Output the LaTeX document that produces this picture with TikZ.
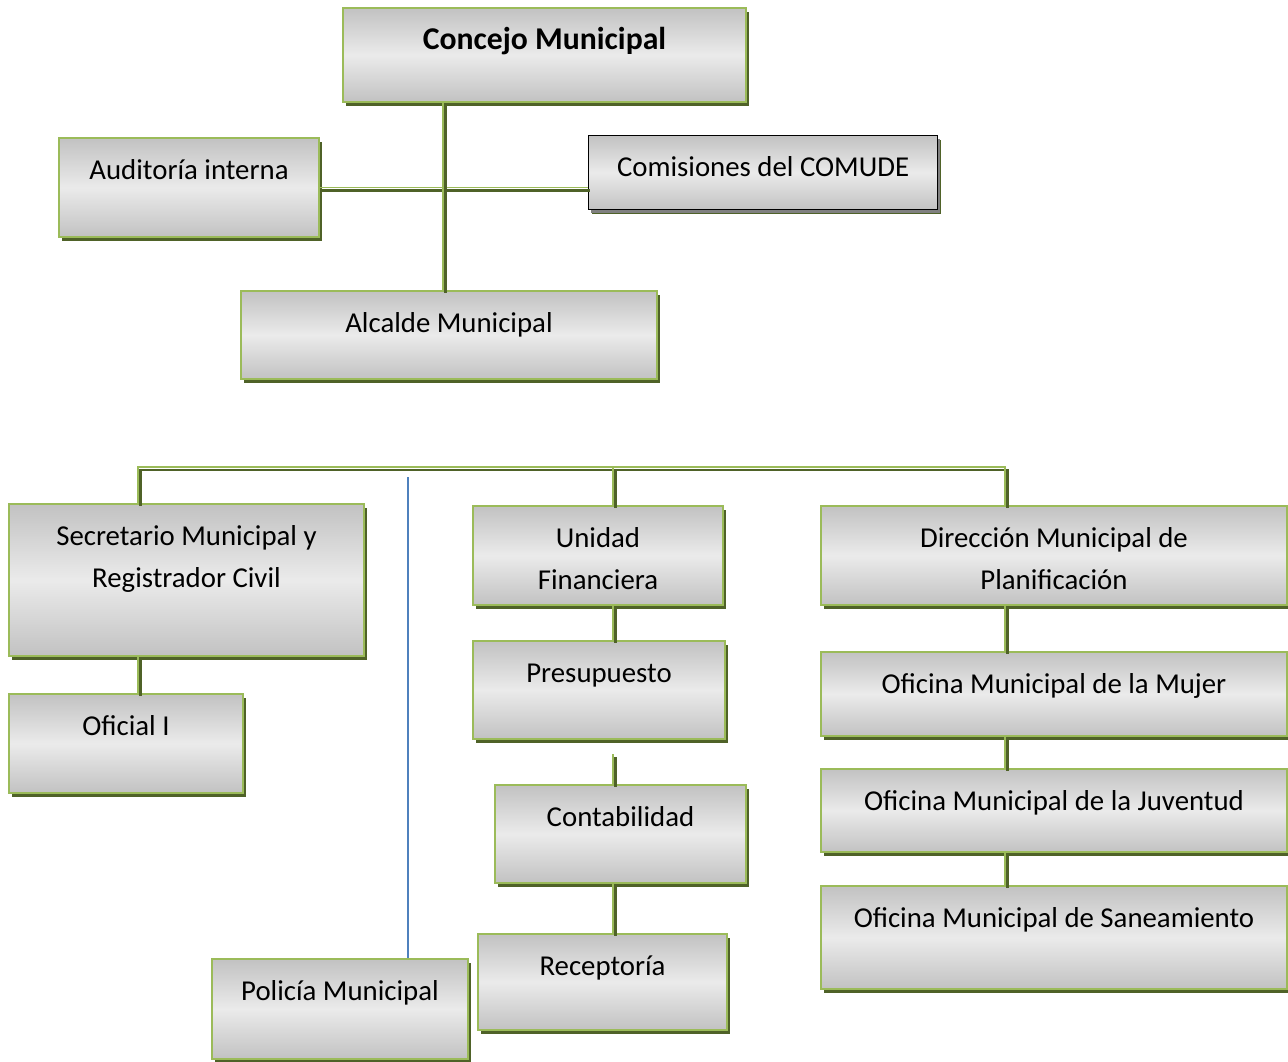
\documentclass[tikz,border=0pt]{standalone}
\usepackage{fontspec}
\setmainfont{Carlito}
\usetikzlibrary{
  calc,
  positioning,
  shadows,
}
\definecolor{leafgreen}{HTML}{9BBB59}
\definecolor{olivegreen}{HTML}{4F6228}
\definecolor{wordblue}{HTML}{4F81BD}
\tikzset{
  box/.style = {rectangle, anchor=north west, inner sep=0pt,
      draw=leafgreen, line width=2pt,
      top color=black!24, bottom color=black!24, middle color=black!8,
      font=\fontsize{28.8pt}{42pt}\selectfont, align=center,
      text height=41pt, % baseline of the first line below the top edge
      drop shadow={shadow xshift=3pt, shadow yshift=-4pt,
          fill=olivegreen, opacity=1}},
  twoline/.style = {box, text height=83pt}, % baseline of the last line
  plainbox/.style = {box, draw=black, line width=1.2pt,
      drop shadow={shadow xshift=2pt, shadow yshift=-3pt,
          fill=black!50, opacity=1}},
  conn/.style = {draw=leafgreen, line width=1.6pt,
      preaction={draw=olivegreen, line width=2.4pt,
          transform canvas={shift={(2.4pt,-2.8pt)}}}},
  bluelink/.style = {draw=wordblue, line width=1.4pt},
}
\begin{document}
\begin{tikzpicture}[x=1pt, y=-1pt]
  \useasboundingbox (0,0) rectangle (1288,1061);

  % upper part
  \node[box, minimum width=403pt, text depth=53pt,
      font=\fontsize{31.7pt}{42pt}\selectfont\bfseries] (concejo) at (342,7)
      {Concejo Municipal};
  \node[box, minimum width=260pt, text depth=58pt] (auditoria) at (58,137)
      {Auditoría interna};
  \node[plainbox, minimum width=349pt, text depth=33pt] (comisiones) at (588,135)
      {Comisiones del COMUDE};
  \node[box, minimum width=416pt, text depth=47pt] (alcalde) at (240,290)
      {Alcalde Municipal};

  \coordinate (cv) at ($(concejo.south west)!.25!(concejo.south east)$);
  \draw[conn] (auditoria.east) -- (auditoria.east -| comisiones.west);
  \draw[conn] (cv) -- (cv |- alcalde.north);

  % lower part
  \node[twoline, minimum width=355pt, text depth=69pt] (secretario) at (8,503)
      {Secretario Municipal y\\Registrador Civil};
  \node[box, minimum width=234pt, text depth=58pt] (oficial) at (8,693)
      {Oficial I};
  \node[twoline, minimum width=250pt, text depth=16pt] (unidad) at (472,505)
      {Unidad\\Financiera};
  \node[box, minimum width=252pt, text depth=57pt] (presupuesto) at (472,640)
      {Presupuesto};
  \node[box, minimum width=251pt, text depth=57pt] (contabilidad) at (494,784)
      {Contabilidad};
  \node[box, minimum width=249pt, text depth=55pt] (receptoria) at (477,933)
      {Receptoría};
  \node[box, minimum width=256pt, text depth=59pt] (policia) at (211,958)
      {Policía Municipal};
  \node[twoline, minimum width=466pt, text depth=16pt] (direccion) at (820,505)
      {Dirección Municipal de\\Planificación};
  \node[box, minimum width=466pt, text depth=43pt] (mujer) at (820,651)
      {Oficina Municipal de la Mujer};
  \node[box, minimum width=466pt, text depth=42pt] (juventud) at (820,768)
      {Oficina Municipal de la Juventud};
  \node[box, minimum width=466pt, text depth=62pt] (saneamiento) at (820,885)
      {Oficina Municipal de Saneamiento};

  \coordinate (busA) at (138,467);
  \coordinate (busB) at (613,467);
  \coordinate (busC) at (1005,467);
  \coordinate (pv) at (408,477);

  \draw[conn] (secretario.north -| busA) -- (busA) -- (busC)
      -- (direccion.north -| busC);
  \draw[conn] (busB) -- (unidad.north -| busB);
  \draw[bluelink] (pv) -- (pv |- policia.north);

  \draw[conn] (secretario.south -| busA) -- (oficial.north -| busA);
  \draw[conn] (unidad.south -| busB) -- (presupuesto.north -| busB);
  \draw[conn] ([yshift=-14pt]presupuesto.south -| busB)
      -- (contabilidad.north -| busB);
  \draw[conn] (contabilidad.south -| busB) -- (receptoria.north -| busB);
  \draw[conn] (direccion.south -| busC) -- (mujer.north -| busC);
  \draw[conn] (mujer.south -| busC) -- (juventud.north -| busC);
  \draw[conn] (juventud.south -| busC) -- (saneamiento.north -| busC);
\end{tikzpicture}
\end{document}
